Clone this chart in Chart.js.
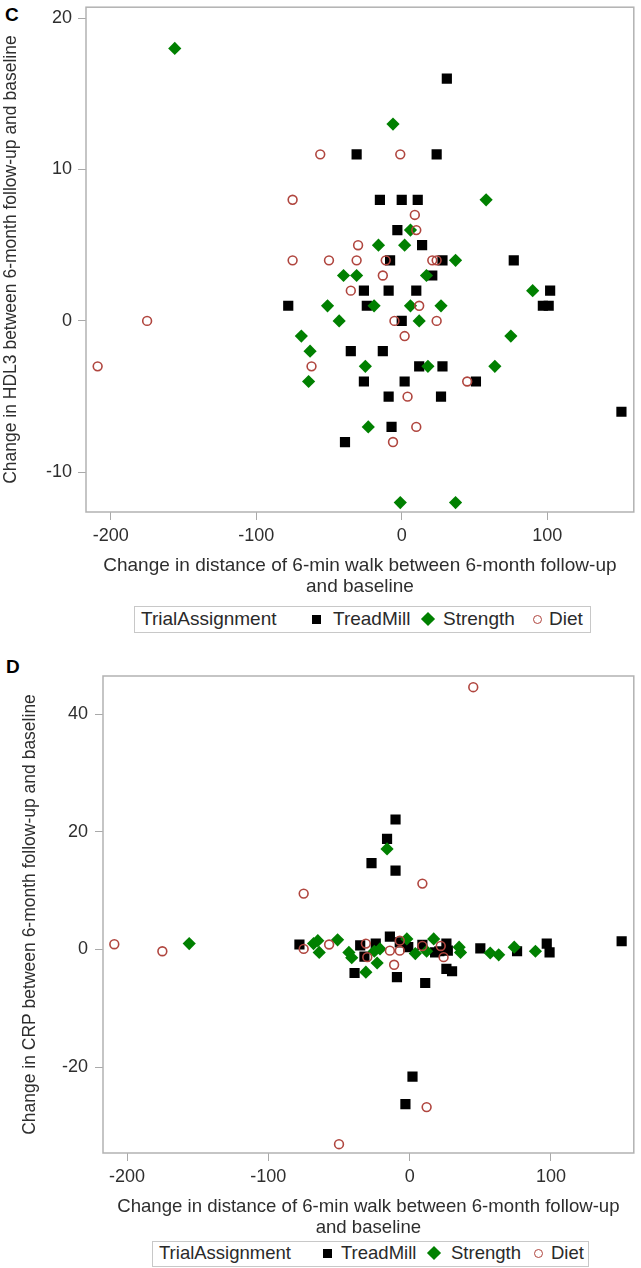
<!DOCTYPE html>
<html><head><meta charset="utf-8">
<script src="https://cdn.jsdelivr.net/npm/chart.js@4.4.1/dist/chart.umd.min.js"></script>
<style>
html,body{margin:0;padding:0;background:#fff;width:641px;height:1268px;overflow:hidden;font-family:"Liberation Sans",Arial,sans-serif;}
canvas{position:absolute;left:0;}
.lbl{position:absolute;font-weight:bold;font-size:19px;line-height:19px;color:#000;}
.legend{position:absolute;border:1px solid #c8c8c8;box-sizing:border-box;background:#fff;}
.legend span{position:absolute;color:#2a2a2a;white-space:nowrap;}
.mk{position:absolute;box-sizing:border-box;}
</style></head><body>
<div class="lbl" style="left:5px;top:5px">C</div>
<canvas id="chartC" width="641" height="597" style="top:0px"></canvas>
<div class="legend" id="legC" style="left:134px;top:606px;width:457px;height:27px;font-size:19px"></div>
<div class="lbl" style="left:6px;top:657px">D</div>
<canvas id="chartD" width="641" height="598" style="top:640px"></canvas>
<div class="legend" id="legD" style="left:152px;top:1241px;width:437px;height:26px;font-size:18.5px"></div>
<script>
// ---- tick labels ----
const walkTicks = [-200, -100, 0, 100];
const hdlTicks = [-10, 0, 10, 20];
const crpTicks = [-20, 0, 20, 40];
const groups = ['TreadMill', 'Strength', 'Diet'];
const legendTitle = 'TrialAssignment';
const walkTitle = ['Change in distance of 6-min walk between 6-month follow-up', 'and baseline'];
const hdlTitle = 'Change in HDL3 between 6-month follow-up and baseline';
const crpTitle = 'Change in CRP between 6-month follow-up and baseline';

// ---- Panel C: HDL3 ----
const hdlTreadWalk = [31, -31, 24, -15, 0, 11, -3, 14, -8, 28, 77, -78, 21, -26, -9, 10, 102, -24, 97, 101, 0, -35, -13, 12, 28, -26, 2, 51, -9, 27, 151, -7, -39];
const hdlTreadChg  = [16, 11, 11, 8, 8, 8, 6, 5, 4, 4, 4, 1, 3, 2, 2, 2, 2, 1, 1, 1, 0, -2, -2, -3, -3, -4, -4, -4, -5, -5, -6, -7, -8];
const hdlStrWalk = [-156, -6, 58, 6, -16, 2, 37, -40, -31, 17, 90, -51, -19, 6, 27, -43, 12, -69, 75, -63, -25, 18, 64, -64, -23, -1, 37];
const hdlStrChg  = [18, 13, 8, 6, 5, 5, 4, 3, 3, 3, 2, 1, 1, 1, 1, 0, 0, -1, -1, -2, -3, -3, -3, -4, -7, -12, -12];
const hdlDietWalk = [-56, -1, -75, -75, 9, 10, -30, -50, -31, -11, 21, 24, -13, -35, 12, -5, 24, 2, -175, -209, -62, 45, 4, 10, -6];
const hdlDietChg  = [11, 11, 8, 4, 7, 6, 5, 4, 4, 4, 4, 4, 3, 2, 1, 0, 0, -1, 0, -3, -3, -4, -5, -7, -8];

// ---- Panel D: CRP ----
const crpTreadWalk = [-10, -16, -27, -10, -78, -35, -24, -32, -39, -14, -9, -7, -1, 9, 18, 21, 26, 27, 26, 30, 11, 50, 76, 97, 99, 150, 2, -3];
const crpTreadChg  = [22.1, 18.8, 14.7, 13.4, 0.85, 0.7, 1, -1.2, -4, 2.2, -4.7, 1.2, 0.4, 0.8, -0.5, -0.3, 1, -0.2, -3.3, -3.7, -5.7, 0.2, -0.3, 1, -0.5, 1.4, -21.6, -26.3];
const crpStrWalk = [-156, -68, -65, -64, -51, -43, -41, -25, -21, -23, -31, -16, -2, 4, 12, 17, 35, 36, 57, 63, 74, 89];
const crpStrChg  = [1, 1, 1.5, -0.5, 1.65, -0.5, -1.4, -0.3, 0.1, -2.3, -3.85, 17.1, 1.8, -0.7, -0.3, 1.8, 0.4, -0.5, -0.6, -0.9, 0.4, -0.3];
const crpDietWalk = [45, -75, 9, -209, -175, -75, -57, -31, -30, -14, -11, -7, -7, 9, 22, 24, 12, -50];
const crpDietChg  = [44.6, 9.5, 11.2, 0.9, -0.3, 0.1, 0.85, 1, -1.3, -0.2, -2.6, 1.5, -0.2, 0.6, 0.6, -1.3, -26.8, -33.1];

const FONT = '"Liberation Sans", Arial, sans-serif';
const TXT = '#2e2e2e';
const AXC = '#a9a9a9';
const markerStyle = [
  {pointStyle: 'rect', pointRadius: 7.2, backgroundColor: '#000', borderColor: '#000', borderWidth: 0},
  {pointStyle: 'rectRot', pointRadius: 6.6, backgroundColor: '#008000', borderColor: '#008000', borderWidth: 0},
  {pointStyle: 'circle', pointRadius: 4.4, backgroundColor: 'rgba(0,0,0,0)', borderColor: '#b0463f', borderWidth: 1.6}
];

const frame = {
  id: 'frame',
  beforeDatasetsDraw(chart) {
    const {ctx, chartArea: a} = chart;
    ctx.save();
    ctx.strokeStyle = '#b2b2b2';
    ctx.lineWidth = 1.5;
    ctx.strokeRect(a.left, a.top, a.right - a.left, a.bottom - a.top);
    ctx.restore();
  }
};

function pts(xs, ys) { return xs.map((v, i) => ({x: v, y: ys[i]})); }

function makeChart(id, series, cfg) {
  const datasets = series.map((s, i) => Object.assign({
    label: groups[i], data: pts(s[0], s[1]), pointHoverRadius: markerStyle[i].pointRadius, order: 2 - i
  }, markerStyle[i]));
  return new Chart(document.getElementById(id), {
    type: 'scatter',
    data: {datasets},
    plugins: [frame],
    options: {
      responsive: false, animation: false, devicePixelRatio: 1, events: [],
      layout: {padding: cfg.pad},
      plugins: {legend: {display: false}, tooltip: {enabled: false}, title: {display: false}},
      scales: {
        x: {
          type: 'linear', min: cfg.xmin, max: cfg.xmax,
          afterBuildTicks: s => { s.ticks = walkTicks.map(v => ({value: v})); },
          ticks: {font: {family: FONT, size: 18}, color: TXT, padding: 5, maxRotation: 0, autoSkip: false},
          grid: {drawOnChartArea: false, drawTicks: true, tickLength: 8, color: AXC, lineWidth: 1},
          border: {display: false},
          title: {display: true, text: walkTitle, color: TXT, font: {family: FONT, size: cfg.xts, lineHeight: 1.1}, padding: {top: 0, bottom: 0}},
          afterFit: s => { s.height = cfg.xh; s.paddingLeft = 0; s.paddingRight = 0; }
        },
        y: {
          type: 'linear', min: cfg.ymin, max: cfg.ymax,
          afterBuildTicks: s => { s.ticks = cfg.yticks.map(v => ({value: v})); },
          ticks: {font: {family: FONT, size: 18}, color: TXT, padding: cfg.ypad, autoSkip: false},
          grid: {drawOnChartArea: false, drawTicks: true, tickLength: 8, color: AXC, lineWidth: 1},
          border: {display: false},
          title: {display: true, text: cfg.ytitle, color: TXT, font: {family: FONT, size: 17.5, lineHeight: 1.2}, padding: {top: cfg.ytp, bottom: 0}},
          afterFit: s => { s.width = cfg.yw; s.paddingTop = 0; s.paddingBottom = 0; }
        }
      }
    }
  });
}

makeChart('chartC', [[hdlTreadWalk, hdlTreadChg], [hdlStrWalk, hdlStrChg], [hdlDietWalk, hdlDietChg]], {
  pad: {top: 3, right: 4, left: 0, bottom: 0}, xmin: -217, xmax: 159.5, ymin: -12.62, ymax: 20.72,
  yticks: hdlTicks, ytitle: hdlTitle, xh: 85, yw: 86, ypad: 6, ytp: 0.5, xts: 19
});
makeChart('chartD', [[crpTreadWalk, crpTreadChg], [crpStrWalk, crpStrChg], [crpDietWalk, crpDietChg]], {
  pad: {top: 36, right: 2, left: 0, bottom: 0}, xmin: -217, xmax: 158.6, ymin: -34.6, ymax: 46.5,
  yticks: crpTicks, ytitle: crpTitle, xh: 85, yw: 103, ypad: 7, ytp: 19.5, xts: 18.6
});

function buildLegend(id, pos) {
  const box = document.getElementById(id);
  const h = box.clientHeight;
  const add = (html, left) => {
    const e = document.createElement('div');
    e.innerHTML = html; e.firstChild.style.left = left + 'px';
    box.appendChild(e.firstChild);
  };
  const lh = 'line-height:' + h + 'px;top:-1px;';
  add('<span style="' + lh + '">' + legendTitle + '</span>', pos.title);
  add('<div class="mk" style="width:9px;height:9px;background:#000;top:' + (h / 2 - 5) + 'px"></div>', pos.sq);
  add('<span style="' + lh + '">' + groups[0] + '</span>', pos.t1);
  add('<div class="mk" style="width:10px;height:10px;background:#008000;transform:rotate(45deg);top:' + (h / 2 - 6) + 'px"></div>', pos.dm);
  add('<span style="' + lh + '">' + groups[1] + '</span>', pos.t2);
  add('<div class="mk" style="width:9px;height:9px;border:1.5px solid #b0463f;border-radius:50%;top:' + (h / 2 - 5) + 'px"></div>', pos.ci);
  add('<span style="' + lh + '">' + groups[2] + '</span>', pos.t3);
}
buildLegend('legC', {title: 6, sq: 177, t1: 198, dm: 288, t2: 308, ci: 398, t3: 414});
buildLegend('legD', {title: 6, sq: 170, t1: 188, dm: 276, t2: 298, ci: 381, t3: 398});
</script>
</body></html>
